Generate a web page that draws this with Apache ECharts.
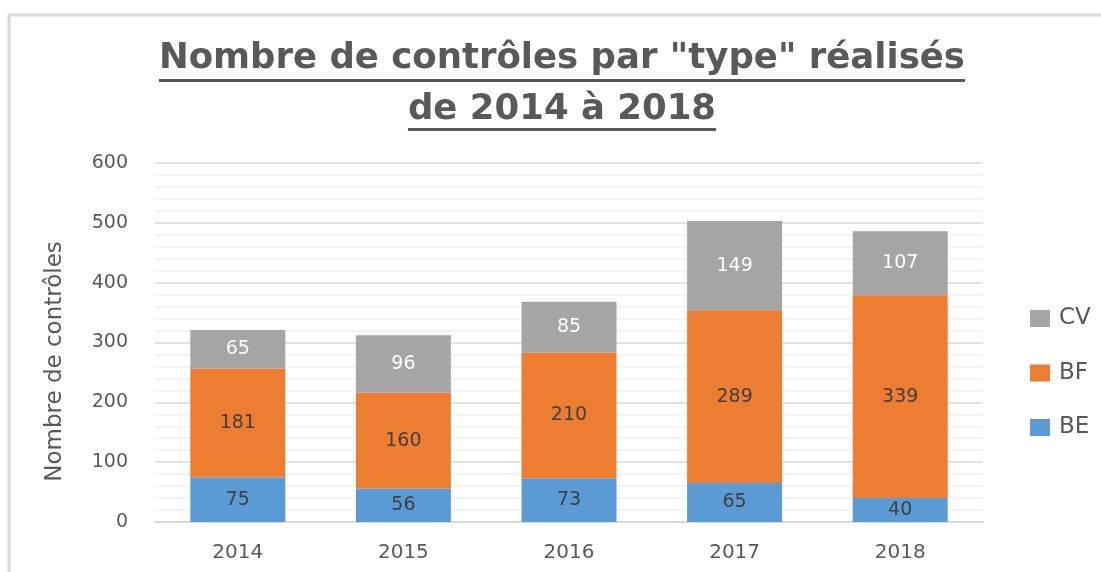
<!DOCTYPE html>
<html>
<head>
<meta charset="utf-8">
<script src="https://cdn.jsdelivr.net/npm/echarts@6/dist/echarts.min.js"></script>
<style>
    html, body { margin: 0; padding: 0; background: #fff; }
    #chart { width: 1101px; height: 572px; }
</style>
</head>
<body>
<div id="chart"></div>
<script>
const years = ['2014', '2015', '2016', '2017', '2018']
const beValues = [75, 56, 73, 65, 40]
const bfValues = [181, 160, 210, 289, 339]
const cvValues = [65, 96, 85, 149, 107]
const yTicks = { min: 0, max: 600, interval: 100 }
const titleLines = ['Nombre de contrôles par "type" réalisés', 'de 2014 à 2018']

const titleFont = 'bold 35.5px "DejaVu Sans"'
const labelFont = 'DejaVu Sans'

// measure text so the underline follows the real title width
function textWidth(text, font) {
    const ctx = document.createElement('canvas').getContext('2d')
    ctx.font = font
    return ctx.measureText(text).width
}

const myChart = echarts.init(document.getElementById('chart'))

const labelStyle = (color) => ({
    show: true,
    position: 'inside',
    color: color,
    fontFamily: labelFont,
    fontSize: 19
})

function titleGraphics() {
    const cx = 562
    const rows = [{ y: 59, line: 79 }, { y: 110, line: 128 }]
    const out = []
    titleLines.forEach((text, i) => {
        const w = textWidth(text, titleFont)
        out.push({
            type: 'text',
            x: cx,
            y: rows[i].y,
            style: {
                text: text,
                font: titleFont,
                fill: '#595959',
                align: 'center',
                verticalAlign: 'middle'
            }
        })
        out.push({
            type: 'rect',
            shape: { x: cx - w / 2, y: rows[i].line, width: w, height: 3 },
            style: { fill: '#595959' }
        })
    })
    return out
}

function renderOptions() {
    return {
        animation: false,
        graphic: [
            {
                type: 'rect',
                shape: { x: 9, y: 15, width: 1200, height: 700 },
                style: { fill: 'none', stroke: '#d9d9d9', lineWidth: 3 },
                silent: true
            }
        ].concat(titleGraphics()),
        color: ['#5b9bd5', '#ed7d31', '#a5a5a5'],
        grid: {
            left: 155,
            right: 118,
            top: 163,
            bottom: 50
        },
        legend: {
            orient: 'vertical',
            left: 1025,
            top: 302,
            itemWidth: 20,
            itemHeight: 17,
            itemGap: 31.5,
            icon: 'rect',
            data: ['CV', 'BF', 'BE'],
            textStyle: {
                color: '#595959',
                fontFamily: labelFont,
                fontSize: 23,
                lineHeight: 17,
                padding: [0, 0, 0, 4]
            }
        },
        xAxis: {
            type: 'category',
            data: years,
            axisLine: { lineStyle: { color: '#d9d9d9', width: 2 } },
            axisTick: { show: false },
            axisLabel: {
                color: '#595959',
                fontFamily: labelFont,
                fontSize: 20,
                margin: 21
            }
        },
        yAxis: {
            type: 'value',
            min: yTicks.min,
            max: yTicks.max,
            interval: yTicks.interval,
            name: 'Nombre de contrôles',
            nameLocation: 'middle',
            nameGap: 88,
            nameTextStyle: {
                color: '#595959',
                fontFamily: labelFont,
                fontSize: 23,
                padding: [0, 38, 0, 0]
            },
            axisLine: { show: false },
            axisTick: { show: false },
            axisLabel: {
                color: '#595959',
                fontFamily: labelFont,
                fontSize: 19,
                margin: 27
            },
            splitLine: { lineStyle: { color: '#d9d9d9', width: 1.5 } },
            minorTick: { show: false, splitNumber: 5 },
            minorSplitLine: { show: true, lineStyle: { color: '#f0f0f0', width: 1.5 } }
        },
        series: [
            {
                name: 'BE',
                type: 'bar',
                stack: 'total',
                barWidth: 95,
                data: beValues,
                label: labelStyle('#404040')
            },
            {
                name: 'BF',
                type: 'bar',
                stack: 'total',
                data: bfValues,
                label: labelStyle('#404040')
            },
            {
                name: 'CV',
                type: 'bar',
                stack: 'total',
                data: cvValues,
                label: labelStyle('#ffffff')
            }
        ]
    }
}

myChart.setOption(renderOptions())
window.addEventListener('resize', () => {
    myChart && myChart.resize()
})
</script>
</body>
</html>
